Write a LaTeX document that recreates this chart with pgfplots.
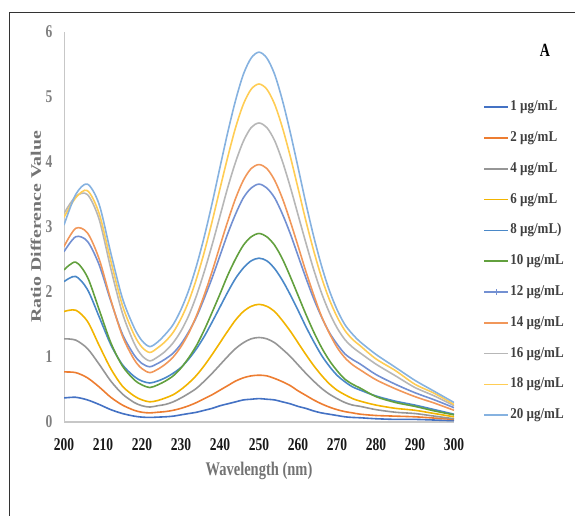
\documentclass[border=0pt]{standalone}
\usepackage{fontspec}
\setmainfont{Liberation Serif}
\usepackage{graphicx}
\usepackage{pgfplots}
\usepackage{pgfplotstable}
\pgfplotsset{compat=1.18}

\definecolor{c1}{HTML}{4472C4}
\definecolor{c2}{HTML}{ED7D31}
\definecolor{c4}{HTML}{969696}
\definecolor{c6}{HTML}{F2B400}
\definecolor{c8}{HTML}{4A88C8}
\definecolor{c10}{HTML}{62A03E}
\definecolor{c12}{HTML}{7390D2}
\definecolor{c14}{HTML}{F1975A}
\definecolor{c16}{HTML}{B7B7B7}
\definecolor{c18}{HTML}{FFCD55}
\definecolor{c20}{HTML}{86B2E0}

% the chart text is squashed sideways in the source image
\newcommand{\tall}[1]{\scalebox{1}[1.33]{#1}}
\newcommand{\leg}[1]{\scalebox{1}[1.15]{#1}}

\pgfplotsset{
  lineleg/.style={legend image code/.code={\draw[##1] (0pt,0pt) -- (24pt,0pt);}},
  plusleg/.style={legend image code/.code={\draw[##1] (0pt,0pt) -- (24pt,0pt);
    \draw[c12, line width=0.8pt] (12pt,-3pt) -- (12pt,3pt);}},
}

\pgfplotstableread{
lam  s1    s2   s4   s6   s8   s10  s12  s14  s16  s18  s20
200  0.37  0.77 1.28 1.70 2.16 2.34 2.62 2.70 3.21 3.15 3.03
203  0.38  0.76 1.26 1.72 2.24 2.46 2.85 2.98 3.47 3.45 3.50
206  0.34  0.68 1.13 1.55 2.04 2.23 2.78 2.91 3.50 3.56 3.66
209  0.27  0.54 0.89 1.18 1.62 1.73 2.42 2.51 3.12 3.21 3.35
212  0.19  0.38 0.63 0.82 1.19 1.22 1.86 1.88 2.36 2.48 2.60
215  0.13  0.26 0.43 0.55 0.88 0.86 1.35 1.32 1.67 1.79 1.90
218  0.09  0.18 0.30 0.40 0.70 0.65 1.03 0.96 1.21 1.34 1.45
220  0.075 0.15 0.25 0.34 0.63 0.57 0.90 0.82 1.02 1.15 1.25
222  0.07  0.14 0.23 0.31 0.60 0.53 0.85 0.76 0.94 1.07 1.16
224  0.075 0.15 0.25 0.33 0.63 0.57 0.90 0.81 1.00 1.14 1.23
226  0.08  0.16 0.27 0.37 0.68 0.63 0.97 0.89 1.09 1.24 1.35
228  0.09  0.18 0.31 0.42 0.75 0.71 1.06 1.00 1.22 1.38 1.50
230  0.11  0.21 0.37 0.50 0.84 0.83 1.20 1.16 1.40 1.59 1.73
232  0.13  0.25 0.44 0.60 0.97 0.99 1.39 1.37 1.64 1.86 2.03
234  0.15  0.30 0.52 0.72 1.13 1.18 1.62 1.64 1.95 2.21 2.41
236  0.18  0.36 0.63 0.87 1.32 1.42 1.91 1.96 2.32 2.62 2.86
238  0.21  0.42 0.75 1.04 1.54 1.69 2.22 2.32 2.73 3.09 3.37
240  0.25  0.49 0.88 1.22 1.77 1.97 2.56 2.71 3.17 3.59 3.92
242  0.28  0.56 1.01 1.40 2.00 2.26 2.90 3.09 3.61 4.08 4.46
244  0.31  0.63 1.13 1.57 2.21 2.51 3.20 3.44 4.00 4.53 4.95
246  0.34  0.68 1.22 1.70 2.37 2.72 3.45 3.72 4.32 4.89 5.35
248  0.35  0.71 1.28 1.78 2.48 2.85 3.60 3.90 4.53 5.12 5.60
250  0.36  0.72 1.30 1.81 2.52 2.90 3.66 3.96 4.60 5.20 5.69
252  0.35  0.71 1.28 1.78 2.48 2.85 3.60 3.90 4.53 5.12 5.60
254  0.34  0.67 1.22 1.70 2.36 2.72 3.45 3.72 4.33 4.89 5.35
256  0.31  0.62 1.12 1.56 2.18 2.51 3.20 3.44 4.01 4.53 4.95
258  0.28  0.56 1.01 1.40 1.96 2.24 2.90 3.09 3.62 4.09 4.46
260  0.24  0.48 0.88 1.22 1.72 1.95 2.56 2.71 3.19 3.60 3.92
262  0.21  0.41 0.75 1.04 1.47 1.66 2.22 2.32 2.76 3.10 3.37
264  0.17  0.34 0.63 0.87 1.24 1.39 1.90 1.96 2.35 2.64 2.86
266  0.14  0.28 0.52 0.72 1.03 1.15 1.62 1.63 1.99 2.23 2.41
268  0.12  0.23 0.43 0.59 0.86 0.95 1.38 1.37 1.69 1.89 2.03
270  0.10  0.19 0.36 0.49 0.72 0.79 1.20 1.15 1.45 1.62 1.73
272  0.08  0.16 0.30 0.42 0.62 0.66 1.05 0.99 1.27 1.41 1.50
274  0.07  0.14 0.26 0.36 0.54 0.58 0.96 0.88 1.15 1.27 1.35
276  0.065 0.12 0.24 0.32 0.49 0.52 0.89 0.80 1.06 1.17 1.23
280  0.05  0.10 0.19 0.26 0.40 0.39 0.73 0.65 0.89 0.97 1.04
285  0.04  0.09 0.15 0.21 0.32 0.30 0.58 0.51 0.71 0.79 0.84
290  0.04  0.08 0.13 0.18 0.26 0.24 0.45 0.39 0.53 0.58 0.64
295  0.03  0.06 0.09 0.13 0.19 0.17 0.34 0.29 0.40 0.44 0.47
300  0.02  0.04 0.05 0.08 0.12 0.11 0.22 0.18 0.25 0.27 0.30
}\spectra

\begin{document}
\begin{tikzpicture}[x=1pt,y=1pt]
\useasboundingbox (0,0) rectangle (575,516);
\clip (0,0) rectangle (575,516);
\draw[line width=0.9pt, black!80] (9,-10) -- (9,503.7) -- (600,503.7);
\begin{axis}[
  at={(64pt,94pt)}, anchor=south west,
  scale only axis, width=390pt, height=390pt,
  xmin=200, xmax=300, ymin=0, ymax=6,
  axis x line*=bottom, axis y line*=left,
  x axis line style={draw=black!22, line width=1.4pt},
  y axis line style={draw=black!22, line width=0.8pt},
  xtick={200,210,...,300}, ytick={0,1,...,6},
  major tick length=0pt,
  /pgf/number format/assume math mode=true,
  xticklabel={\tall{\pgfmathprintnumber{\tick}}},
  yticklabel={\tall{\pgfmathprintnumber{\tick}}},
  x tick label style={anchor=center, yshift=-23pt, text=black!90,
    font=\fontsize{13.5}{15}\selectfont\bfseries},
  y tick label style={anchor=center, xshift=-15pt, text=black!50,
    font=\fontsize{13.5}{15}\selectfont\bfseries},
  xlabel={\tall{Wavelength (nm)}},
  xlabel style={at={(axis description cs:0.5,-0.1256)}, anchor=center,
    text=black!55, font=\fontsize{14.5}{16}\selectfont\bfseries},
  ylabel={\scalebox{1.37}[1]{Ratio Difference Value}},
  ylabel style={at={(axis description cs:-0.0718,0.5)}, anchor=center,
    text=black!55, font=\fontsize{14.5}{16}\selectfont\bfseries},
  every axis plot/.append style={line width=1.6pt, smooth, no marks},
  lineleg,
  legend style={at={(1.0744,0.8244)}, anchor=north west, draw=none, fill=none,
    inner sep=0pt, row sep=17.8pt, text=black!75,
    font=\fontsize{13}{15}\selectfont\bfseries,
    nodes={inner xsep=1.5pt, inner ysep=0pt, text height=10pt, text depth=3pt}},
  legend cell align=left,
]
\addplot[c1]  table[x=lam, y=s1]  {\spectra};
\addplot[c2]  table[x=lam, y=s2]  {\spectra};
\addplot[c4]  table[x=lam, y=s4]  {\spectra};
\addplot[c6]  table[x=lam, y=s6]  {\spectra};
\addplot[c8]  table[x=lam, y=s8]  {\spectra};
\addplot[c10] table[x=lam, y=s10] {\spectra};
\addplot[c12, plusleg] table[x=lam, y=s12] {\spectra};
\addplot[c14] table[x=lam, y=s14] {\spectra};
\addplot[c16] table[x=lam, y=s16] {\spectra};
\addplot[c18] table[x=lam, y=s18] {\spectra};
\addplot[c20] table[x=lam, y=s20] {\spectra};
\legend{\leg{1 µg/mL}, \leg{2 µg/mL}, \leg{4 µg/mL}, \leg{6 µg/mL},
  \leg{8 µg/mL)}, \leg{10 µg/mL}, \leg{12 µg/mL}, \leg{14 µg/mL},
  \leg{16 µg/mL}, \leg{18 µg/mL}, \leg{20 µg/mL}}
\end{axis}
\node[font=\fontsize{14}{16}\selectfont\bfseries] at (545,466) {\tall{A}};
\end{tikzpicture}
\end{document}
